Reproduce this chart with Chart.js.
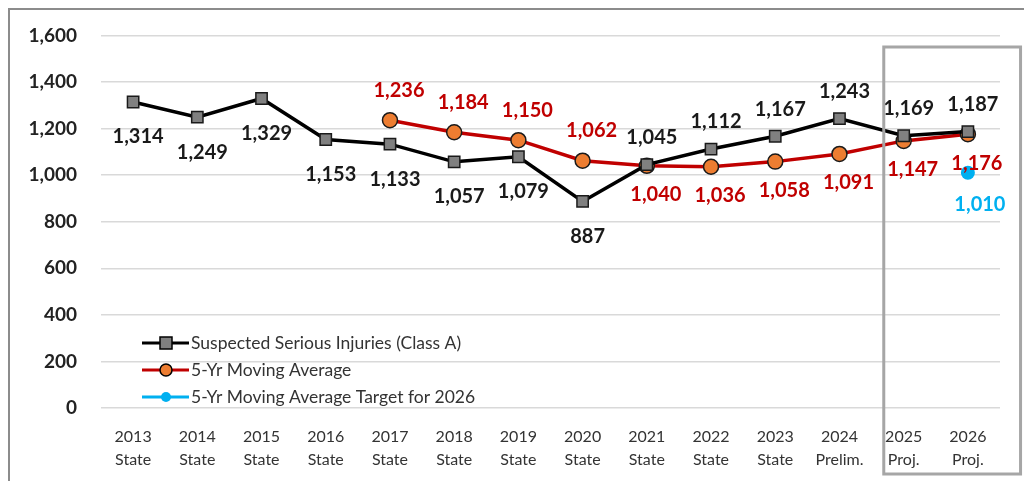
<!DOCTYPE html>
<html lang="en">
<head>
  <meta charset="UTF-8">
  <title>Suspected Serious Injuries</title>
  <script src="https://cdn.jsdelivr.net/npm/chart.js@4.4.1/dist/chart.umd.min.js"></script>
  <style>
    html, body { margin: 0; padding: 0; background: #fff; }
    #wrap { position: relative; width: 1024px; height: 481px; overflow: hidden; }
    #frame { position: absolute; left: 8px; top: 8px; width: 1040px; height: 490px; border: 2px solid #8c8c8c; box-sizing: border-box; pointer-events: none; }
  </style>
</head>
<body>
  <div id="wrap">
    <canvas id="chart" width="1024" height="481"></canvas>
    <div id="frame"></div>
  </div>
  <script>
    const years = ['2013','2014','2015','2016','2017','2018','2019','2020','2021','2022','2023','2024','2025','2026'];
    const subLabels = ['State','State','State','State','State','State','State','State','State','State','State','Prelim.','Proj.','Proj.'];
    const injuries = [1314, 1249, 1329, 1153, 1133, 1057, 1079, 887, 1045, 1112, 1167, 1243, 1169, 1187];
    const movingAvg = [null, null, null, null, 1236, 1184, 1150, 1062, 1040, 1036, 1058, 1091, 1147, 1176];
    const target = [null, null, null, null, null, null, null, null, null, null, null, null, null, 1010];
    const yTicks = [0, 200, 400, 600, 800, 1000, 1200, 1400, 1600];

    // label above ('a') or below ('b') each point
    const injuriesPos = ['b','b','b','b','b','b','b','b','a','a','a','a','a','a'];
    const avgPos = [null,null,null,null,'a','a','a','a','b','b','b','b','b','b'];
    const targetPos = [null,null,null,null,null,null,null,null,null,null,null,null,null,'b'];

    const FONT = 'Lato, "Open Sans", sans-serif';
    const fmt = v => v.toLocaleString('en-US');

    const labelPlugin = {
      id: 'pointLabels',
      afterDatasetsDraw(chart) {
        const ctx = chart.ctx;
        const cfg = [
          { ds: 0, pos: injuriesPos, color: '#1a1a1a', up: 27, down: 35, dx: 5 },
          { ds: 1, pos: avgPos, color: '#c00000', up: 30, down: 29, dx: 9 },
          { ds: 2, pos: targetPos, color: '#00b0f0', up: 27, down: 32, dx: 12 }
        ];
        ctx.save();
        ctx.font = 'bold 20px ' + FONT;
        ctx.textAlign = 'center';
        ctx.textBaseline = 'middle';
        cfg.forEach(c => {
          const meta = chart.getDatasetMeta(c.ds);
          const data = chart.data.datasets[c.ds].data;
          meta.data.forEach((pt, i) => {
            if (data[i] == null) return;
            const dy = c.pos[i] === 'a' ? -c.up : c.down;
            ctx.fillStyle = c.color;
            ctx.fillText(fmt(data[i]), pt.x + c.dx, pt.y + dy);
          });
        });
        ctx.restore();
      }
    };

    // grey box around the projected years
    const boxPlugin = {
      id: 'projBox',
      afterDraw(chart) {
        const x = chart.scales.x;
        const step = x.getPixelForValue(13) - x.getPixelForValue(12);
        const left = x.getPixelForValue(12) - step * 0.31;
        const right = x.getPixelForValue(13) + step * 0.82;
        const ctx = chart.ctx;
        ctx.save();
        ctx.strokeStyle = '#a6a6a6';
        ctx.lineWidth = 3;
        ctx.strokeRect(left, 47, right - left, 427);
        ctx.restore();
      }
    };

    const legendPlugin = {
      id: 'innerLegend',
      afterDraw(chart) {
        const ctx = chart.ctx;
        const items = [
          { text: 'Suspected Serious Injuries (Class A)', line: '#000', kind: 'square' },
          { text: '5-Yr Moving Average', line: '#c00000', kind: 'circle' },
          { text: '5-Yr Moving Average Target for 2026', line: '#00b0f0', kind: 'dot' }
        ];
        ctx.save();
        ctx.font = '17.5px ' + FONT;
        ctx.textBaseline = 'middle';
        items.forEach((it, i) => {
          const y = 343 + i * 27;
          ctx.strokeStyle = it.line;
          ctx.lineWidth = 3;
          ctx.beginPath(); ctx.moveTo(142, y); ctx.lineTo(189, y); ctx.stroke();
          if (it.kind === 'square') {
            ctx.fillStyle = '#808080'; ctx.strokeStyle = '#000'; ctx.lineWidth = 1.5;
            ctx.fillRect(160, y - 6, 12, 12); ctx.strokeRect(160, y - 6, 12, 12);
          } else if (it.kind === 'circle') {
            ctx.fillStyle = '#ed7d31'; ctx.strokeStyle = '#000'; ctx.lineWidth = 1.5;
            ctx.beginPath(); ctx.arc(166, y, 6, 0, Math.PI * 2); ctx.fill(); ctx.stroke();
          } else {
            ctx.fillStyle = '#00b0f0';
            ctx.beginPath(); ctx.arc(166, y, 5, 0, Math.PI * 2); ctx.fill();
          }
          ctx.fillStyle = '#333';
          ctx.fillText(it.text, 191, y);
        });
        ctx.restore();
      }
    };

    new Chart(document.getElementById('chart'), {
      type: 'line',
      data: {
        labels: years.map((y, i) => [y, subLabels[i]]),
        datasets: [
          {
            label: 'Suspected Serious Injuries (Class A)',
            data: injuries,
            borderColor: '#000', borderWidth: 3.5,
            pointStyle: 'rect', pointRadius: 8,
            pointBackgroundColor: '#808080', pointBorderColor: '#1a1a1a', pointBorderWidth: 1.5,
            tension: 0
          },
          {
            label: '5-Yr Moving Average',
            data: movingAvg,
            borderColor: '#c00000', borderWidth: 3.5,
            pointStyle: 'circle', pointRadius: 7.5,
            pointBackgroundColor: '#ed7d31', pointBorderColor: '#1a1a1a', pointBorderWidth: 1.5,
            tension: 0
          },
          {
            label: '5-Yr Moving Average Target for 2026',
            data: target,
            borderColor: '#00b0f0', borderWidth: 3,
            pointStyle: 'circle', pointRadius: 5.5,
            pointBackgroundColor: '#00b0f0', pointBorderColor: '#00b0f0',
            showLine: false
          }
        ]
      },
      options: {
        responsive: false,
        animation: false,
        layout: { padding: { left: 0, right: 24, top: 31, bottom: 0 } },
        plugins: { legend: { display: false }, tooltip: { enabled: false } },
        scales: {
          x: {
            offset: true,
            grid: { display: false },
            border: { display: false },
            ticks: { color: '#333', font: { family: FONT, size: 16, lineHeight: 1.4 }, padding: 10, maxRotation: 0, autoSkip: false },
            afterFit(s) { s.height = 73; }
          },
          y: {
            min: 0, max: 1600,
            afterBuildTicks(s) { s.ticks = yTicks.map(v => ({ value: v })); },
            grid: { color: '#d9d9d9', lineWidth: 1.5, drawTicks: false },
            border: { display: false },
            ticks: { color: '#222', font: { family: FONT, size: 19, weight: 'bold' }, padding: 24, callback: v => fmt(v) },
            afterFit(s) { s.width = 101; }
          }
        }
      },
      plugins: [labelPlugin, boxPlugin, legendPlugin]
    });
  </script>
</body>
</html>
